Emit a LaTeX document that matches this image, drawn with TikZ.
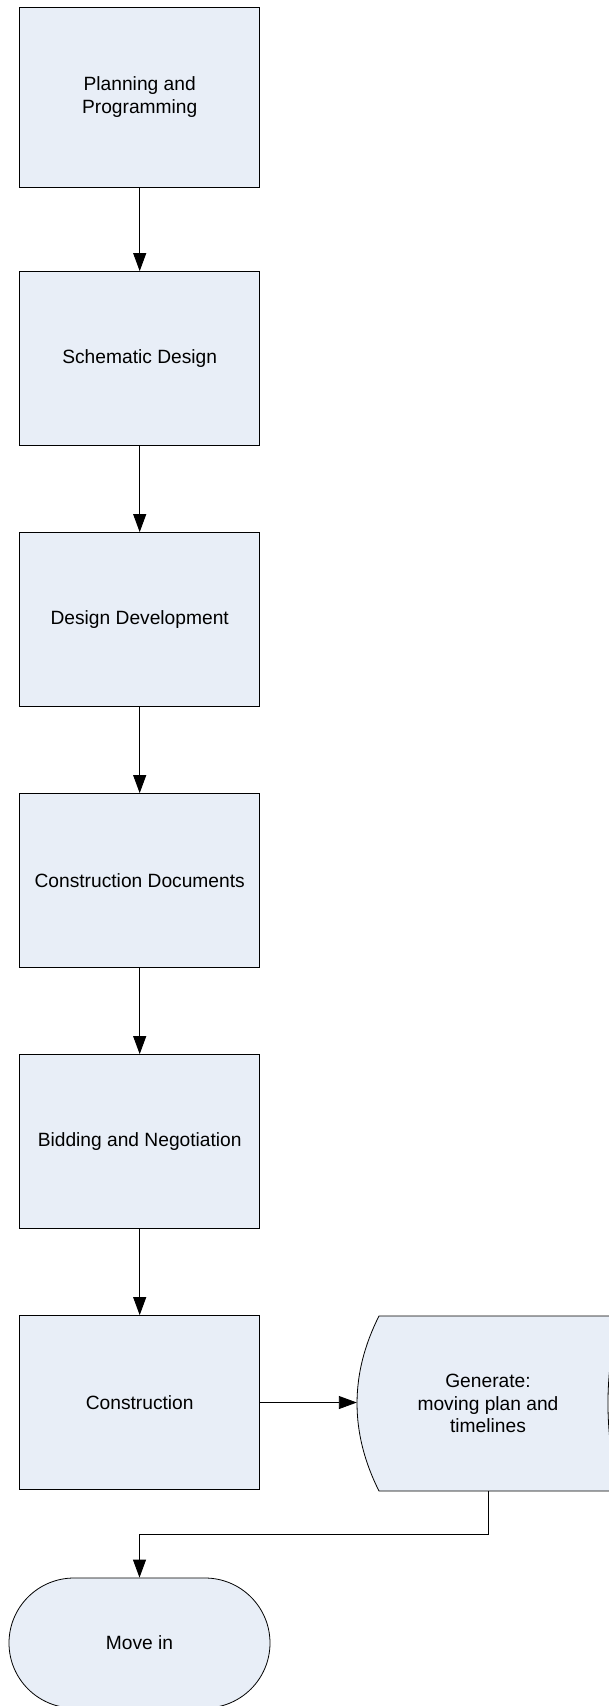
\documentclass[tikz,border=0pt]{standalone}
\usepackage{fontspec}
\setmainfont{Liberation Sans}
\usetikzlibrary{arrows.meta,calc}
\definecolor{boxfill}{RGB}{232,238,247}
\begin{document}
\begin{tikzpicture}[x=1pt,y=-1pt,
  every node/.style={font=\fontsize{19.2}{22.5}\selectfont, align=center},
  procbox/.style={draw=black, line width=0.8pt, fill=boxfill, minimum width=240pt, minimum height=174pt, inner sep=0pt},
  termbox/.style={draw=black, line width=0.8pt, fill=boxfill, minimum width=261pt, minimum height=130pt, rounded corners=65pt, inner sep=0pt},
  conn/.style={draw=black, line width=0.9pt, -{Triangle[length=18pt,width=13pt]}},
  storeshape/.style={draw=black, line width=0.8pt, fill=boxfill}
]
\useasboundingbox (0,0) rectangle (609,1706);
\clip (0,0) rectangle (609,1706);

\node[procbox, minimum height=180pt] (plan) at (139.7,97) {Planning and\\Programming};
\node[procbox] (schem) at (139.7,358.5) {Schematic Design};
\node[procbox] (dd) at (139.7,619.5) {Design Development};
\node[procbox] (cd) at (139.7,880.5) {Construction Documents};
\node[procbox] (bid) at (139.7,1141.5) {Bidding and Negotiation};
\node[procbox] (cons) at (139.7,1402.5) {Construction};

% stored data shape
\path[storeshape] (379,1316) -- (619,1316)
  .. controls (604.3,1374) and (604.3,1432.7) .. (619,1491)
  -- (379,1491)
  .. controls (349.7,1432.7) and (349.7,1374) .. cycle;
\node[minimum width=262pt, minimum height=175pt, inner sep=0pt] (store) at (488,1403.5) {Generate:\\moving plan and\\timelines};

\node[termbox] (move) at (139.5,1643) {Move in};

\coordinate (bendy) at (0,1534);

\draw[conn] (plan.south) -- (schem.north);
\draw[conn] (schem.south) -- (dd.north);
\draw[conn] (dd.south) -- (cd.north);
\draw[conn] (cd.south) -- (bid.north);
\draw[conn] (bid.south) -- (cons.north);
\draw[conn] (cons.east) -- (cons.east -| store.west);
\draw[conn] (store.south) -- (store.south |- bendy) -| (move.north);
\end{tikzpicture}
\end{document}
